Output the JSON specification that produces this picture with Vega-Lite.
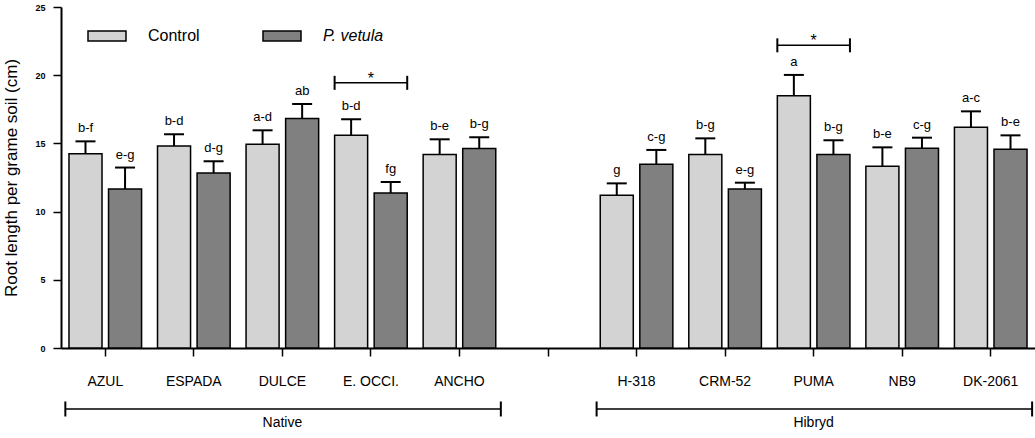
{
  "$schema": "https://vega.github.io/schema/vega-lite/v6.json",
  "width": 974,
  "height": 341,
  "autosize": {"type": "none"},
  "padding": {"left": 61, "top": 7, "right": 0, "bottom": 90},
  "background": "white",
  "config": {
    "view": {"stroke": null},
    "font": "Liberation Sans",
    "text": {"font": "Liberation Sans", "color": "black"},
    "axis": {"grid": false}
  },
  "datasets": {
    "roots": [
      {"cultivar": "AZUL", "treatment": "Control", "mean": 14.25, "upper": 15.15, "letters": "b-f"},
      {"cultivar": "AZUL", "treatment": "P. vetula", "mean": 11.66, "upper": 13.23, "letters": "e-g"},
      {"cultivar": "ESPADA", "treatment": "Control", "mean": 14.81, "upper": 15.67, "letters": "b-d"},
      {"cultivar": "ESPADA", "treatment": "P. vetula", "mean": 12.83, "upper": 13.69, "letters": "d-g"},
      {"cultivar": "DULCE", "treatment": "Control", "mean": 14.93, "upper": 15.96, "letters": "a-d"},
      {"cultivar": "DULCE", "treatment": "P. vetula", "mean": 16.82, "upper": 17.89, "letters": "ab"},
      {"cultivar": "E. OCCI.", "treatment": "Control", "mean": 15.59, "upper": 16.77, "letters": "b-d"},
      {"cultivar": "E. OCCI.", "treatment": "P. vetula", "mean": 11.36, "upper": 12.17, "letters": "fg"},
      {"cultivar": "ANCHO", "treatment": "Control", "mean": 14.18, "upper": 15.3, "letters": "b-e"},
      {"cultivar": "ANCHO", "treatment": "P. vetula", "mean": 14.62, "upper": 15.45, "letters": "b-g"},
      {"cultivar": "H-318", "treatment": "Control", "mean": 11.2, "upper": 12.07, "letters": "g"},
      {"cultivar": "H-318", "treatment": "P. vetula", "mean": 13.47, "upper": 14.52, "letters": "c-g"},
      {"cultivar": "CRM-52", "treatment": "Control", "mean": 14.18, "upper": 15.37, "letters": "b-g"},
      {"cultivar": "CRM-52", "treatment": "P. vetula", "mean": 11.66, "upper": 12.12, "letters": "e-g"},
      {"cultivar": "PUMA", "treatment": "Control", "mean": 18.5, "upper": 20.02, "letters": "a"},
      {"cultivar": "PUMA", "treatment": "P. vetula", "mean": 14.18, "upper": 15.23, "letters": "b-g"},
      {"cultivar": "NB9", "treatment": "Control", "mean": 13.32, "upper": 14.71, "letters": "b-e"},
      {"cultivar": "NB9", "treatment": "P. vetula", "mean": 14.64, "upper": 15.42, "letters": "c-g"},
      {"cultivar": "DK-2061", "treatment": "Control", "mean": 16.18, "upper": 17.35, "letters": "a-c"},
      {"cultivar": "DK-2061", "treatment": "P. vetula", "mean": 14.57, "upper": 15.59, "letters": "b-e"}
    ],
    "significance": [
      {"cultivar": "E. OCCI.", "level": 19.44, "mark": "*"},
      {"cultivar": "PUMA", "level": 22.19, "mark": "*"}
    ],
    "groups": [
      {"group": "Native", "first": "AZUL", "last": "ANCHO", "middle": "DULCE"},
      {"group": "Hibryd", "first": "H-318", "last": "DK-2061", "middle": "PUMA"}
    ]
  },
  "layer": [
    {
      "data": {"name": "roots"},
      "mark": {"type": "bar", "stroke": "black", "strokeWidth": 1.5, "opacity": 1},
      "encoding": {
        "x": {
          "field": "cultivar", "type": "nominal", "title": null,
          "scale": {
            "domain": ["AZUL", "ESPADA", "DULCE", "E. OCCI.", "ANCHO", " ", "H-318", "CRM-52", "PUMA", "NB9", "DK-2061"],
            "paddingInner": 0.18, "paddingOuter": 0.09
          },
          "axis": {
            "labelAngle": 0, "tickSize": 8, "tickWidth": 1.5, "tickColor": "black",
            "domainColor": "black", "domainWidth": 2, "labelFontSize": 14,
            "labelColor": "black", "labelPadding": 18, "labelFont": "Liberation Sans",
            "grid": false, "title": null
          }
        },
        "xOffset": {
          "field": "treatment", "type": "nominal",
          "scale": {"domain": ["Control", "P. vetula"], "paddingInner": 0.165, "paddingOuter": 0}
        },
        "y": {
          "field": "mean", "type": "quantitative", "title": "Root length per grame soil (cm)",
          "scale": {"domain": [0, 25], "nice": false},
          "axis": {
            "values": [0, 5, 10, 15, 20, 25], "tickSize": 8, "tickWidth": 1.5, "tickColor": "black",
            "domainColor": "black", "domainWidth": 2, "labelFont": "Liberation Sans",
            "labelFontWeight": "bold", "labelFontSize": 9, "labelPadding": 8, "labelColor": "black",
            "grid": false, "title": "Root length per grame soil (cm)", "titleFontSize": 17,
            "titleFontWeight": "normal", "titleColor": "black", "titlePadding": 14,
            "titleFont": "Liberation Sans"
          }
        },
        "color": {
          "field": "treatment", "type": "nominal",
          "scale": {"domain": ["Control", "P. vetula"], "range": ["#d3d3d3", "#808080"]},
          "legend": {
            "title": null, "orient": "none", "direction": "horizontal",
            "legendX": 26, "legendY": 9,
            "symbolType": "M-1,-0.263H1V0.263H-1Z", "symbolSize": 1444,
            "symbolStrokeColor": "black", "symbolStrokeWidth": 1.5, "symbolOpacity": 1,
            "labelFontSize": 16, "labelFont": "Liberation Sans", "labelColor": "black",
            "labelOffset": 21, "columnPadding": 60,
            "labelFontStyle": {"expr": "datum.label == 'P. vetula' ? 'italic' : 'normal'"}
          }
        }
      }
    },
    {
      "data": {"name": "roots"},
      "mark": {"type": "rule", "color": "black", "strokeWidth": 2},
      "encoding": {
        "x": {"field": "cultivar", "type": "nominal", "title": null},
        "xOffset": {"field": "treatment", "type": "nominal"},
        "y": {"field": "mean", "type": "quantitative", "title": "Root length per grame soil (cm)"},
        "y2": {"field": "upper"}
      }
    },
    {
      "data": {"name": "roots"},
      "mark": {"type": "tick", "orient": "horizontal", "color": "black", "size": 20, "thickness": 2, "opacity": 1},
      "encoding": {
        "x": {"field": "cultivar", "type": "nominal", "title": null},
        "xOffset": {"field": "treatment", "type": "nominal"},
        "y": {"field": "upper", "type": "quantitative", "title": "Root length per grame soil (cm)"}
      }
    },
    {
      "data": {"name": "roots"},
      "mark": {"type": "text", "fontSize": 13, "baseline": "alphabetic", "dy": -9, "color": "black"},
      "encoding": {
        "x": {"field": "cultivar", "type": "nominal", "title": null},
        "xOffset": {"field": "treatment", "type": "nominal"},
        "y": {"field": "upper", "type": "quantitative", "title": "Root length per grame soil (cm)"},
        "text": {"field": "letters"}
      }
    },
    {
      "data": {"name": "significance"},
      "mark": {"type": "rule", "color": "black", "strokeWidth": 1.5},
      "encoding": {
        "x": {"field": "cultivar", "type": "nominal", "bandPosition": 0, "title": null},
        "x2": {"field": "cultivar", "bandPosition": 1},
        "y": {"field": "level", "type": "quantitative", "title": "Root length per grame soil (cm)"}
      }
    },
    {
      "data": {"name": "significance"},
      "mark": {"type": "tick", "orient": "vertical", "color": "black", "size": 14, "thickness": 2, "opacity": 1},
      "encoding": {
        "x": {"field": "cultivar", "type": "nominal", "bandPosition": 0, "title": null},
        "y": {"field": "level", "type": "quantitative", "title": "Root length per grame soil (cm)"}
      }
    },
    {
      "data": {"name": "significance"},
      "mark": {"type": "tick", "orient": "vertical", "color": "black", "size": 14, "thickness": 2, "opacity": 1},
      "encoding": {
        "x": {"field": "cultivar", "type": "nominal", "bandPosition": 1, "title": null},
        "y": {"field": "level", "type": "quantitative", "title": "Root length per grame soil (cm)"}
      }
    },
    {
      "data": {"name": "significance"},
      "mark": {"type": "text", "fontSize": 16, "baseline": "alphabetic", "dy": 1, "color": "black"},
      "encoding": {
        "x": {"field": "cultivar", "type": "nominal", "title": null},
        "y": {"field": "level", "type": "quantitative", "title": "Root length per grame soil (cm)"},
        "text": {"field": "mark"}
      }
    },
    {
      "data": {"name": "groups"},
      "mark": {"type": "rule", "color": "black", "strokeWidth": 1.5, "clip": false},
      "encoding": {
        "x": {"field": "first", "type": "nominal", "bandPosition": -0.05, "title": null},
        "x2": {"field": "last", "bandPosition": 1.07},
        "y": {"datum": -4.47, "type": "quantitative", "title": "Root length per grame soil (cm)"}
      }
    },
    {
      "data": {"name": "groups"},
      "mark": {"type": "tick", "orient": "vertical", "color": "black", "size": 15, "thickness": 2, "opacity": 1, "clip": false},
      "encoding": {
        "x": {"field": "first", "type": "nominal", "bandPosition": -0.05, "title": null},
        "y": {"datum": -4.47, "type": "quantitative", "title": "Root length per grame soil (cm)"}
      }
    },
    {
      "data": {"name": "groups"},
      "mark": {"type": "tick", "orient": "vertical", "color": "black", "size": 15, "thickness": 2, "opacity": 1, "clip": false},
      "encoding": {
        "x": {"field": "last", "type": "nominal", "bandPosition": 1.07, "title": null},
        "y": {"datum": -4.47, "type": "quantitative", "title": "Root length per grame soil (cm)"}
      }
    },
    {
      "data": {"name": "groups"},
      "mark": {"type": "text", "fontSize": 14, "baseline": "middle", "color": "black", "clip": false},
      "encoding": {
        "x": {"field": "middle", "type": "nominal", "title": null},
        "y": {"datum": -5.52, "type": "quantitative", "title": "Root length per grame soil (cm)"},
        "text": {"field": "group"}
      }
    }
  ]
}
